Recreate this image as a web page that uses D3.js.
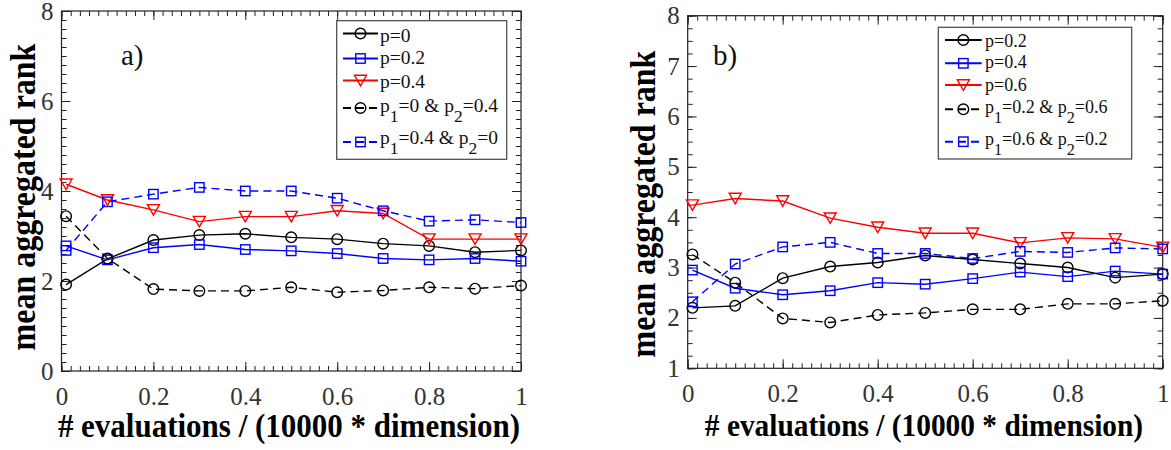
<!DOCTYPE html>
<html lang="en">
<head>
<meta charset="utf-8">
<script src="https://d3js.org/d3.v7.min.js"></script>
<title>mean aggregated rank</title>
<style>
  body { margin: 0; background: #fff; }
  text { font-family: "Liberation Serif", "Times New Roman", serif; }
  .tick line { stroke: #222; }
  .tick text { fill: #333; }
</style>
</head>
<body>
<script>

// x positions of the measurements
var evals = [0.01, 0.1, 0.2, 0.3, 0.4, 0.5, 0.6, 0.7, 0.8, 0.9, 1];
var xTicks = [0, 0.2, 0.4, 0.6, 0.8, 1];

// panel a)
var aTicksY = [0, 2, 4, 6, 8];
var a_p0    = [1.92, 2.49, 2.91, 3.02, 3.05, 2.97, 2.93, 2.83, 2.78, 2.64, 2.68];
var a_p02   = [2.78, 2.47, 2.74, 2.81, 2.70, 2.67, 2.61, 2.50, 2.47, 2.50, 2.44];
var a_p04   = [4.15, 3.80, 3.58, 3.32, 3.43, 3.43, 3.56, 3.50, 2.93, 2.93, 2.93];
var a_p0_04 = [3.44, 2.50, 1.82, 1.78, 1.78, 1.86, 1.75, 1.79, 1.86, 1.83, 1.90];
var a_p04_0 = [2.68, 3.76, 3.93, 4.08, 4.00, 4.00, 3.84, 3.56, 3.33, 3.36, 3.30];
var aLabels = ["p=0", "p=0.2", "p=0.4", "p_1=0 & p_2=0.4", "p_1=0.4 & p_2=0"];

// panel b)
var bTicksY = [1, 2, 3, 4, 5, 6, 7, 8];
var b_p02    = [2.20, 2.24, 2.79, 3.02, 3.10, 3.24, 3.16, 3.08, 3.00, 2.80, 2.87];
var b_p04    = [2.95, 2.59, 2.46, 2.54, 2.70, 2.67, 2.78, 2.91, 2.82, 2.93, 2.87];
var b_p06    = [4.24, 4.37, 4.32, 3.98, 3.80, 3.68, 3.68, 3.49, 3.59, 3.57, 3.40];
var b_p02_06 = [3.26, 2.70, 1.99, 1.91, 2.06, 2.10, 2.17, 2.17, 2.28, 2.28, 2.34];
var b_p06_02 = [2.32, 3.07, 3.41, 3.50, 3.28, 3.28, 3.18, 3.32, 3.30, 3.39, 3.37];
var bLabels = ["p=0.2", "p=0.4", "p=0.6", "p_1=0.2 & p_2=0.6", "p_1=0.6 & p_2=0.2"];

// line styles, same for both panels
var styles = [
  {color: "#000", marker: "circle", dash: null},
  {color: "#0000ff", marker: "square", dash: null},
  {color: "#ff0000", marker: "triangle", dash: null},
  {color: "#000", marker: "circle", dash: "8,5"},
  {color: "#0000ff", marker: "square", dash: "8,5"}
];

var width = 1171, height = 450;
var svg = d3.select("body").append("svg").attr("width", width).attr("height", height);

function marker(g, type, cx, cy, color) {
  if (type == "circle") {
    g.append("circle").attr("cx", cx).attr("cy", cy).attr("r", 5.3)
      .attr("fill", "none").attr("stroke", color).attr("stroke-width", 1.4);
  } else if (type == "square") {
    g.append("rect").attr("x", cx - 4.7).attr("y", cy - 4.7).attr("width", 9.4).attr("height", 9.4)
      .attr("fill", "none").attr("stroke", color).attr("stroke-width", 1.4);
  } else {
    var w = 12, h = 10.5;
    g.append("path").attr("d", "M" + (cx - w / 2) + "," + (cy - h / 2) + "L" + (cx + w / 2) + "," + (cy - h / 2) + "L" + cx + "," + (cy + h / 2) + "Z")
      .attr("fill", "none").attr("stroke", color).attr("stroke-width", 1.4);
  }
}

// writes "p_1=0" with subscripts
function richText(t, str, size) {
  var parts = str.split(/_(\d)/);
  parts.forEach(function(s, i) {
    if (s === "") return;
    if (i % 2 == 1) {
      t.append("tspan").attr("dy", 10).attr("font-size", size * 0.9).text(s);
    } else {
      var ts = t.append("tspan").text(s);
      if (i > 0) ts.attr("dy", -10);
    }
  });
}

function panel(cfg) {
  var x = d3.scaleLinear().domain([0, 1]).range([cfg.x0, cfg.x1]);
  var y = d3.scaleLinear().domain(cfg.yDomain).range([cfg.y0, cfg.y1]);
  var g = svg.append("g");

  var minorX = d3.range(0, 51).map(function(i) { return i / 50; });
  var minorY = d3.range(cfg.yDomain[0], cfg.yDomain[1] + 1e-6, cfg.yMinor);
  var noDomain = function(s) { s.select(".domain").remove(); };

  // ticks on all four sides, pointing inwards
  g.append("g").attr("transform", "translate(0," + cfg.y0 + ")")
    .call(d3.axisBottom(x).tickValues(minorX).tickSize(-5).tickFormat("")).call(noDomain);
  g.append("g").attr("transform", "translate(0," + cfg.y0 + ")")
    .call(d3.axisBottom(x).tickValues(xTicks).tickSize(-9).tickPadding(16).tickFormat(function(d) { return d; }))
    .call(noDomain);
  g.append("g").attr("transform", "translate(0," + cfg.y1 + ")")
    .call(d3.axisTop(x).tickValues(minorX).tickSize(-5).tickFormat("")).call(noDomain);
  g.append("g").attr("transform", "translate(0," + cfg.y1 + ")")
    .call(d3.axisTop(x).tickValues(xTicks).tickSize(-9).tickFormat("")).call(noDomain);

  g.append("g").attr("transform", "translate(" + cfg.x0 + ",0)")
    .call(d3.axisLeft(y).tickValues(minorY).tickSize(-5).tickFormat("")).call(noDomain);
  g.append("g").attr("transform", "translate(" + cfg.x0 + ",0)")
    .call(d3.axisLeft(y).tickValues(cfg.yTicks).tickSize(-9).tickPadding(8).tickFormat(function(d) { return d; }))
    .call(noDomain);
  g.append("g").attr("transform", "translate(" + cfg.x1 + ",0)")
    .call(d3.axisRight(y).tickValues(minorY).tickSize(-5).tickFormat("")).call(noDomain);
  g.append("g").attr("transform", "translate(" + cfg.x1 + ",0)")
    .call(d3.axisRight(y).tickValues(cfg.yTicks).tickSize(-9).tickFormat("")).call(noDomain);

  g.selectAll(".tick text").attr("font-family", "Liberation Serif, Times New Roman, serif")
    .attr("font-size", 25);

  g.append("rect").attr("x", cfg.x0).attr("y", cfg.y1)
    .attr("width", cfg.x1 - cfg.x0).attr("height", cfg.y0 - cfg.y1)
    .attr("fill", "none").attr("stroke", "#222").attr("stroke-width", 1.2);

  // series
  var line = d3.line().x(function(d, i) { return x(evals[i]); }).y(function(d) { return y(d); });
  cfg.series.forEach(function(vals, k) {
    var st = styles[k];
    g.append("path").datum(vals).attr("d", line)
      .attr("fill", "none").attr("stroke", st.color).attr("stroke-width", 1.4)
      .attr("stroke-dasharray", st.dash);
  });
  cfg.series.forEach(function(vals, k) {
    var st = styles[k];
    vals.forEach(function(v, i) { marker(g, st.marker, x(evals[i]), y(v), st.color); });
  });

  // panel letter
  g.append("text").attr("x", cfg.tag[0]).attr("y", cfg.tag[1]).attr("font-size", 29).attr("fill", "#111").text(cfg.tag[2]);

  // axis titles
  g.append("text").attr("text-anchor", "middle").attr("font-weight", "bold").attr("font-size", cfg.titleX[2])
    .attr("transform", "translate(" + cfg.titleX[0] + "," + cfg.titleX[1] + ") scale(1,1.08)")
    .text("# evaluations / (10000 * dimension)");
  g.append("text").attr("text-anchor", "middle").attr("font-weight", "bold").attr("font-size", cfg.titleY[2])
    .attr("transform", "translate(" + cfg.titleY[0] + "," + cfg.titleY[1] + ") rotate(-90) scale(1,1.13)")
    .text("mean aggregated rank");

  // legend
  var L = cfg.legend;
  var lg = g.append("g");
  lg.append("rect").attr("x", L.x0).attr("y", L.y0).attr("width", L.x1 - L.x0).attr("height", L.y1 - L.y0)
    .attr("fill", "#fff").attr("stroke", "#444").attr("stroke-width", 1.2);
  cfg.labels.forEach(function(lab, k) {
    var st = styles[k];
    var ly = L.lineY[k];
    lg.append("line").attr("x1", L.lx0).attr("x2", L.lx1).attr("y1", ly).attr("y2", ly)
      .attr("stroke", st.color).attr("stroke-width", 2).attr("stroke-dasharray", st.dash);
    marker(lg, st.marker, (L.lx0 + L.lx1) / 2, ly, st.color);
    var t = lg.append("text").attr("x", L.tx).attr("y", L.textY[k]).attr("font-size", L.size).attr("fill", "#111");
    richText(t, lab, L.size);
  });
}

panel({
  x0: 61.5, x1: 521, y0: 371, y1: 11,
  yDomain: [0, 8], yTicks: aTicksY, yMinor: 0.2,
  series: [a_p0, a_p02, a_p04, a_p0_04, a_p04_0],
  labels: aLabels,
  tag: [121, 65, "a)"],
  titleX: [289, 437, 31],
  titleY: [35, 197, 32],
  legend: {x0: 336.7, x1: 506.7, y0: 20.7, y1: 159.3, lx0: 343, lx1: 378, tx: 380, size: 19.5,
           lineY: [33.5, 58.5, 80.5, 108, 142], textY: [41.5, 64, 87.5, 112, 143.5]}
});

panel({
  x0: 687.7, x1: 1162.7, y0: 368.3, y1: 15.7,
  yDomain: [1, 8], yTicks: bTicksY, yMinor: 0.25,
  series: [b_p02, b_p04, b_p06, b_p02_06, b_p06_02],
  labels: bLabels,
  tag: [713, 65, "b)"],
  titleX: [924, 436, 29.4],
  titleY: [655, 204, 32],
  legend: {x0: 938.3, x1: 1131.7, y0: 27.3, y1: 159, lx0: 945, lx1: 981.7, tx: 985, size: 18,
           lineY: [40, 63.3, 85, 109.3, 141.7], textY: [46.7, 68.3, 90.7, 113.3, 145]}
});

</script>
</body>
</html>
